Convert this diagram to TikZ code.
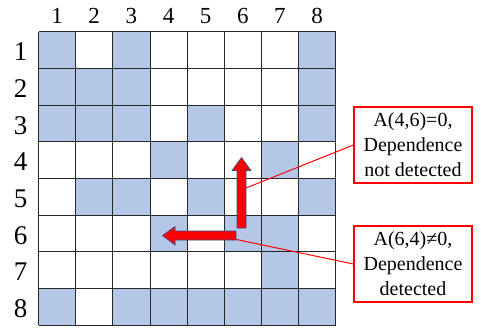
\documentclass[tikz,border=0pt]{standalone}
\usepackage{fontspec}
\setmainfont{Liberation Serif}
\usepackage{tikz}
\usetikzlibrary{positioning, calc}
\definecolor{CellBlue}{HTML}{B4C7E7}
\definecolor{ArrowRed}{HTML}{FF0000}
\definecolor{EdgeNavy}{HTML}{2F528F}

\begin{document}
\begin{tikzpicture}[x=1pt, y=-1pt,
    gridline/.style={line width=0.8pt, black!85},
    bigarrow/.style={fill=ArrowRed, draw=EdgeNavy, line width=0.6pt},
    leader/.style={draw=ArrowRed, line width=1pt},
    callout/.style={draw=ArrowRed, line width=1.2pt, fill=white, minimum width=118pt,
                    minimum height=76pt, inner sep=1pt, align=center,
                    font=\fontsize{20}{25}\selectfont}]
    \useasboundingbox (0,0) rectangle (481,327);

    % Shaded cells
    \foreach \r/\c in {1/1,1/3,1/8, 2/1,2/2,2/3,2/8, 3/1,3/2,3/3,3/5,3/8, 4/4,4/7,
                       5/2,5/3,5/5,5/8, 6/4,6/6,6/7, 7/7, 8/1,8/3,8/4,8/5,8/6,8/7,8/8}
        \fill[CellBlue] ({38.5+(\c-1)*37.15},{31.7+(\r-1)*36.66}) rectangle ++(37.15,36.66);

    % Grid lines
    \foreach \i in {0,...,8} {
        \draw[gridline] ({38.5+\i*37.15},31.7) -- ({38.5+\i*37.15},325);
        \draw[gridline] (38.5,{31.7+\i*36.66}) -- (335.7,{31.7+\i*36.66});
    }

    % Column and row numbers
    \foreach \i in {1,...,8} {
        \node[font=\fontsize{23}{23}\selectfont] (col\i) at ({38.5+(\i-0.5)*37.15},16) {\i};
        \node[font=\fontsize{27}{27}\selectfont] (row\i) at (20.5,{33.7+(\i-0.5)*36.66}) {\i};
    }

    % Points the callouts point at
    \coordinate (upmid) at (246,188);
    \coordinate (leftend) at (234,239);

    % Callouts
    \node[callout] (zero) at (413,145) {A(4,6)=0,\\Dependence\\not detected};
    \node[callout] (nonzero) at (413,264) {A(6,4)≠0,\\Dependence\\detected};
    \draw[leader] (upmid) -- (zero.west);
    \draw[leader] (leftend) -- (nonzero.west);

    % Block arrows
    \draw[bigarrow] (237,228) -- (237,170.5) -- (232,170.5) -- (241.5,157.5)
        -- (251,170.5) -- (246,170.5) -- (246,228) -- cycle;
    \draw[bigarrow] (236,231) -- (175,231) -- (175,226.5) -- (162.5,235.5)
        -- (175,245) -- (175,240) -- (236,240) -- cycle;
\end{tikzpicture}
\end{document}
